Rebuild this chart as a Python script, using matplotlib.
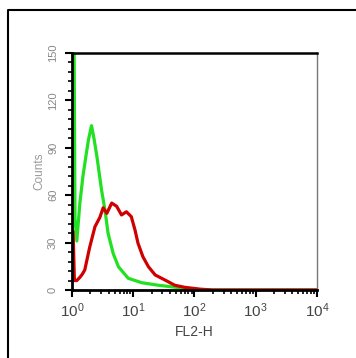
import matplotlib
matplotlib.use('Agg')
import matplotlib.pyplot as plt
import numpy as np
from matplotlib.lines import Line2D
from matplotlib.ticker import MultipleLocator, LogLocator, NullFormatter

# green histogram (control), FL2 position given as decade exponent
green_log = [0.0, 0.03, 0.05, 0.08, 0.13, 0.18, 0.23, 0.27, 0.32, 0.36, 0.41,
             0.485, 0.54, 0.59, 0.675, 0.76, 0.92, 1.14, 1.41, 1.63, 1.84,
             2.0, 4.0]
green_counts = [200, 200, 45, 31, 55, 72, 85, 95, 104, 96, 84,
                63, 50.6, 36, 23, 14.7, 7.4, 4.6, 3, 2, 1,
                0, 0]

# red histogram (stained sample)
red_log = [0.0, 0.02, 0.04, 0.08, 0.13, 0.17, 0.21, 0.29, 0.376, 0.457, 0.51,
           0.57, 0.65, 0.73, 0.81, 0.89, 0.97, 1.03, 1.08, 1.16, 1.25,
           1.36, 1.52, 1.68, 1.84, 2.1, 2.3, 4.0]
red_counts = [37, 37, 6, 6, 8, 10, 12.7, 27, 40, 46, 52,
              48.5, 55, 53, 47.5, 49.5, 46.4, 38, 29.5, 21, 14.7,
              9.5, 6.3, 3, 1.7, 0.5, 0, 0]

y_ticks = [0, 30, 60, 90, 120, 150]

plt.rcParams['mathtext.default'] = 'regular'
plt.rcParams['font.family'] = ['Liberation Sans', 'DejaVu Sans']

fig = plt.figure(figsize=(3.56, 3.58), dpi=100)
ax = fig.add_axes([0.202, 0.190, 0.688, 0.662])

ax.plot(np.power(10.0, green_log), green_counts, color='#22e022', lw=2.3)
ax.plot(np.power(10.0, red_log), red_counts, color='#d00000', lw=2.3)

ax.set_xscale('log')
ax.set_xlim(1, 1e4)
ax.set_ylim(0, 150)
ax.set_yticks(y_ticks)
ax.yaxis.set_minor_locator(MultipleLocator(6))
ax.xaxis.set_minor_locator(LogLocator(base=10, subs=np.arange(2, 10)))
ax.xaxis.set_minor_formatter(NullFormatter())

for s in ['left', 'bottom']:
    ax.spines[s].set_linewidth(2)
ax.spines['top'].set_linewidth(1.8)
ax.spines['right'].set_linewidth(1)
ax.spines['right'].set_color('#777777')

ax.tick_params(axis='both', which='major', direction='out', length=5, width=1.5)
ax.tick_params(axis='both', which='minor', direction='out', length=3, width=1.2)
ax.tick_params(axis='x', which='major', labelsize=11, labelcolor='#444444', pad=3)
ax.tick_params(axis='y', which='major', labelsize=8, labelcolor='#888888', pad=5)
for lbl in ax.get_yticklabels():
    lbl.set_rotation(90)
    lbl.set_va('center')

ax.set_xlabel('FL2-H', fontsize=10, color='#444444', labelpad=4)
ax.set_ylabel('Counts', fontsize=8.5, color='#999999', labelpad=2)

# outer frame (left and top edges)
fig.add_artist(Line2D([0.0225, 0.0225, 1.0], [0.0, 0.972, 0.972],
                      transform=fig.transFigure, color='black', lw=1.5))

fig.savefig('out.png', dpi=100)
